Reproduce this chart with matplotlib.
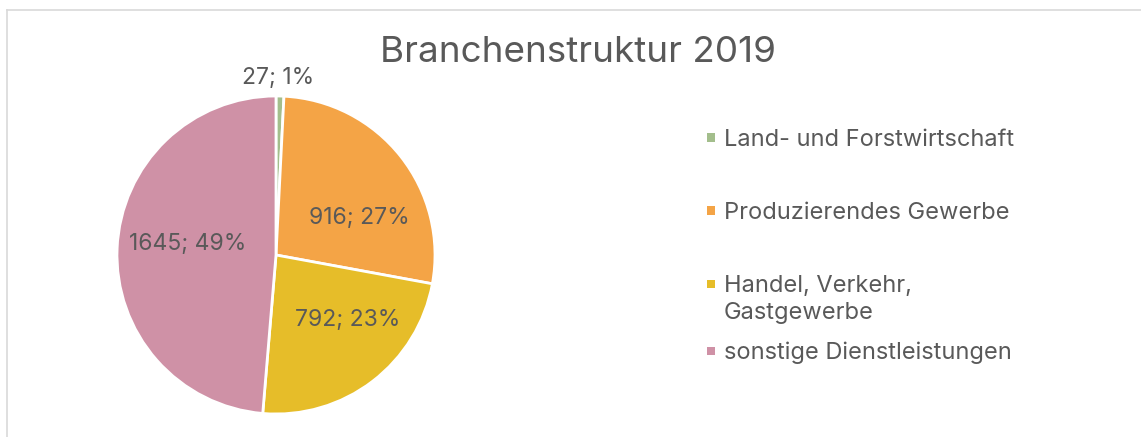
import matplotlib
matplotlib.use("Agg")
import matplotlib.pyplot as plt
import numpy as np
from matplotlib.lines import Line2D
from matplotlib.patches import Rectangle

categories = ["Land- und Forstwirtschaft", "Produzierendes Gewerbe",
              "Handel, Verkehr,\nGastgewerbe", "sonstige Dienstleistungen"]
values = [27, 916, 792, 1645]
percent_labels = ["1%", "27%", "23%", "49%"]
title = "Branchenstruktur 2019"

colors = ["#A3BE8C", "#F4A446", "#E6BD29", "#CF91A6"]
text_color = "#595959"
FONT = "Inter"

W, H = 1141, 437
fig = plt.figure(figsize=(W / 100, H / 100), dpi=100)
fig.patch.set_facecolor("white")


def fx(px):
    return px / W


def fy(py):
    return 1 - py / H


# border (light grey frame)
fig.add_artist(Line2D([fx(6.5), fx(6.5)], [0, fy(9.5)], transform=fig.transFigure,
                      color="#D9D9D9", lw=1.2))
fig.add_artist(Line2D([fx(6.5), 1], [fy(9.5), fy(9.5)], transform=fig.transFigure,
                      color="#D9D9D9", lw=1.2))

cx, cy, r = 276, 255, 159
ax = fig.add_axes([fx(cx - r), (H - cy - r) / H, 2 * r / W, 2 * r / H])
wedges, _ = ax.pie(values, colors=colors, startangle=90, counterclock=False,
                   radius=1, wedgeprops=dict(edgecolor="white", linewidth=2.0))
ax.set_xlim(-1, 1)
ax.set_ylim(-1, 1)
ax.set_aspect("equal")
ax.axis("off")

# data labels: "value; percent"
angle_shift = [0.8, -13.2, 11.6, -6.0]
dist = [1.13, 0.58, 0.60, 0.56]
for w, v, p, sh, d in zip(wedges, values, percent_labels, angle_shift, dist):
    ang = np.deg2rad((w.theta1 + w.theta2) / 2 + sh)
    ax.annotate(f"{v}; {p}", xy=(d * np.cos(ang), d * np.sin(ang)),
                xytext=(0, -6.1), textcoords="offset points",
                ha="center", va="baseline", fontsize=16.5, color=text_color,
                family=FONT, annotation_clip=False)

fig.text(fx(578.5), fy(62.5), title, ha="center", va="baseline", fontsize=26.5,
         color=text_color, family=FONT)

# legend
marker_y = [137.5, 210.5, 283.7, 350.5]
line_gap = 27
for lab, c, y in zip(categories, colors, marker_y):
    fig.add_artist(Rectangle((fx(707), fy(y + 4)), 8 / W, 8 / H,
                             transform=fig.transFigure, facecolor=c, edgecolor="none"))
    for i, line in enumerate(lab.split("\n")):
        fig.text(fx(724), fy(y + 8.5 + i * line_gap), line, ha="left", va="baseline",
                 fontsize=17, color=text_color, family=FONT)

fig.savefig("out.png", dpi=100)
